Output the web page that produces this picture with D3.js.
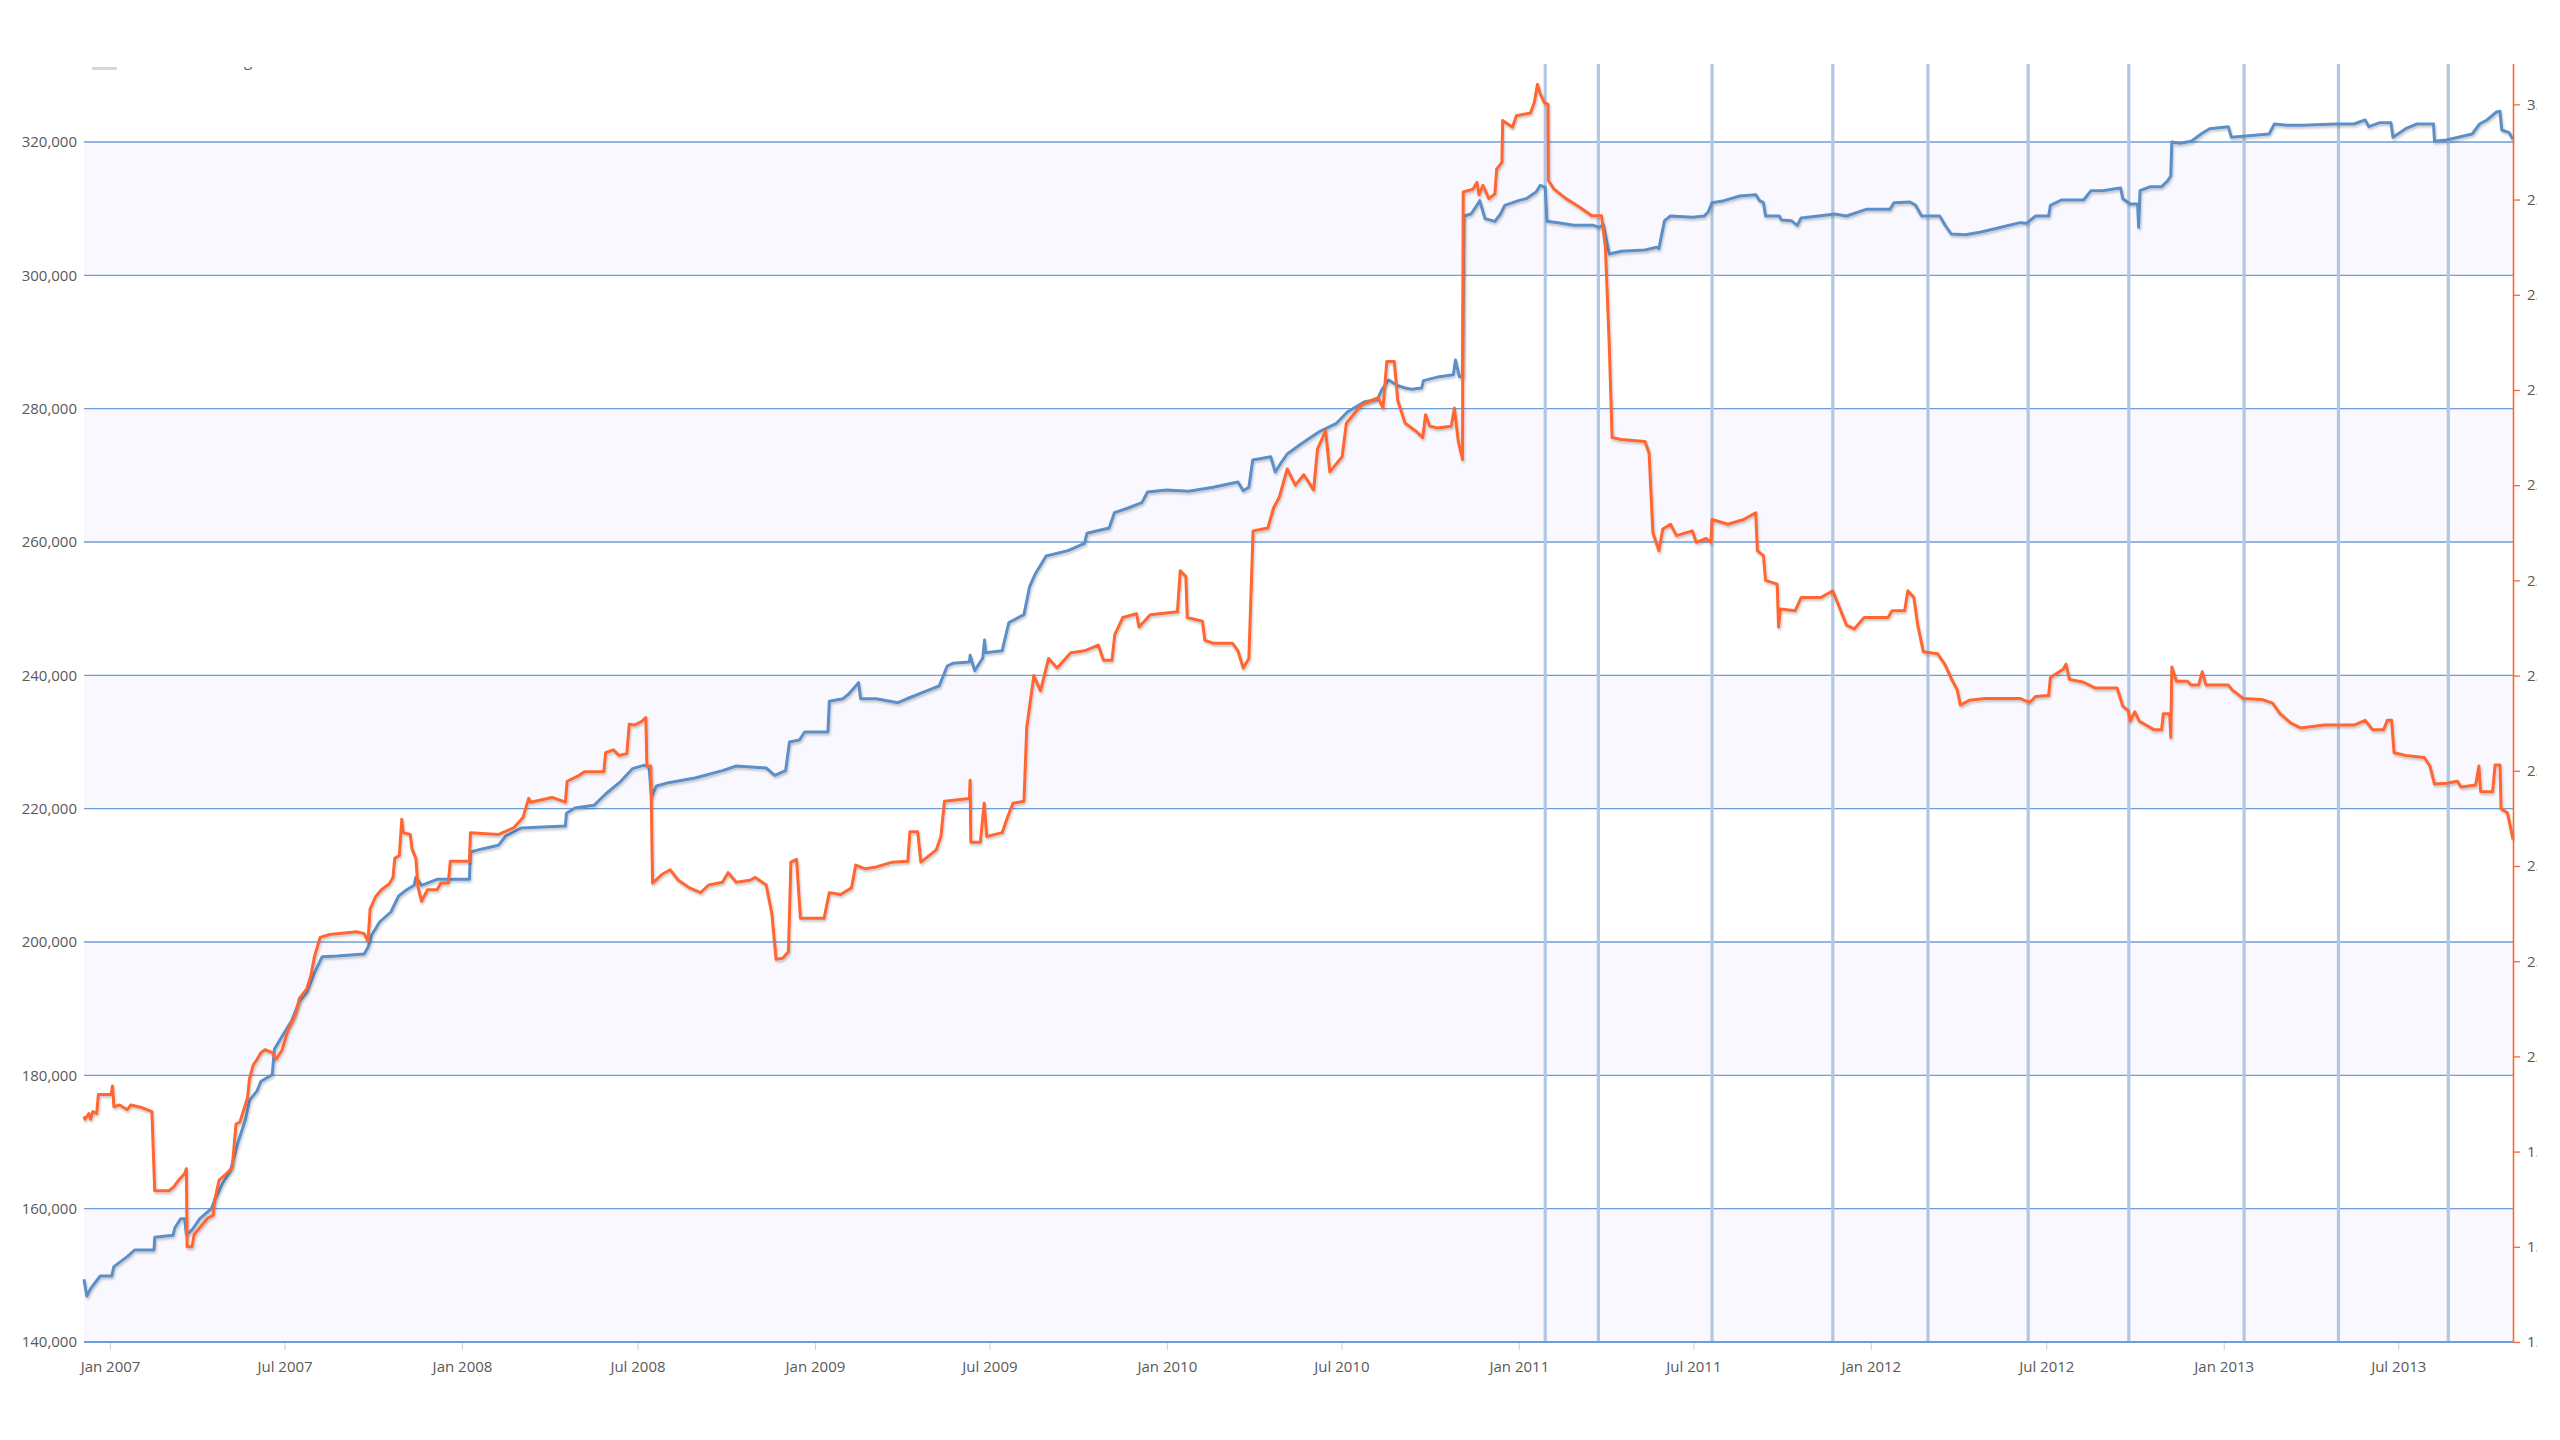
<!DOCTYPE html>
<html><head><meta charset="utf-8">
<script src="https://cdn.jsdelivr.net/npm/d3@7"></script>
<style>html,body{margin:0;padding:0;background:#fff;overflow:hidden}svg{display:block;font-family:"Open Sans",sans-serif}</style>
</head><body>
<svg id="chart" width="2560" height="1440"></svg>
<script>
// ---- DATA (x in decimal years) ----
const blueSeries = [
[2006.926,149400],[2006.934,146900],[2006.945,148000],[2006.972,149900],[2007.005,149900],[2007.011,151300],
[2007.049,152800],[2007.070,153800],[2007.125,153800],[2007.127,155700],[2007.179,156000],[2007.184,157100],
[2007.201,158500],[2007.212,158500],[2007.217,156100],[2007.233,156800],[2007.255,158500],[2007.288,160000],
[2007.298,161400],[2007.320,163800],[2007.342,165700],[2007.364,170000],[2007.385,173400],[2007.396,176200],
[2007.418,177700],[2007.429,179100],[2007.461,180100],[2007.467,183900],[2007.494,186300],[2007.516,188200],
[2007.538,191100],[2007.559,192500],[2007.581,195400],[2007.603,197800],[2007.646,197900],[2007.722,198200],
[2007.733,199200],[2007.744,201100],[2007.766,203000],[2007.798,204500],[2007.820,206900],[2007.842,207800],
[2007.864,208500],[2007.869,209700],[2007.885,208500],[2007.929,209400],[2008.021,209400],[2008.024,213500],
[2008.060,214000],[2008.103,214500],[2008.124,215900],[2008.168,217100],[2008.293,217400],[2008.296,219300],
[2008.320,220100],[2008.374,220500],[2008.407,222200],[2008.450,224100],[2008.483,226000],[2008.515,226500],
[2008.530,226300],[2008.537,221800],[2008.551,223400],[2008.585,223900],[2008.660,224600],[2008.738,225700],
[2008.777,226400],[2008.862,226100],[2008.886,225000],[2008.917,225700],[2008.928,230000],[2008.956,230300],
[2008.971,231500],[2009.037,231500],[2009.041,236100],[2009.080,236500],[2009.096,237200],[2009.124,238900],
[2009.130,236500],[2009.174,236500],[2009.236,235900],[2009.267,236600],[2009.314,237600],[2009.353,238400],
[2009.376,241400],[2009.392,241800],[2009.439,242000],[2009.441,243000],[2009.454,240700],[2009.477,242600],
[2009.482,245300],[2009.485,243400],[2009.532,243700],[2009.551,247900],[2009.594,249100],[2009.610,253300],
[2009.626,255200],[2009.657,257900],[2009.719,258700],[2009.766,259800],[2009.773,261300],[2009.836,262100],
[2009.851,264400],[2009.890,265100],[2009.929,265900],[2009.945,267500],[2009.999,267800],[2010.062,267600],
[2010.132,268200],[2010.202,269000],[2010.217,267700],[2010.233,268200],[2010.244,272300],[2010.295,272800],
[2010.308,270500],[2010.326,272000],[2010.342,273200],[2010.381,274700],[2010.435,276600],[2010.482,277800],
[2010.513,279500],[2010.560,281000],[2010.599,281400],[2010.610,282800],[2010.630,284300],[2010.654,283500],
[2010.677,283100],[2010.696,282900],[2010.724,283100],[2010.729,284200],[2010.774,284800],[2010.814,285100],
[2010.820,287300],[2010.831,284800],[2010.840,284800],[2010.844,308900],[2010.864,309200],[2010.881,310500],
[2010.889,311200],[2010.904,308500],[2010.932,308100],[2010.948,309200],[2010.960,310500],[2010.999,311200],
[2011.021,311500],[2011.049,312500],[2011.061,313500],[2011.075,313200],[2011.080,308100],[2011.111,307900],
[2011.156,307500],[2011.212,307500],[2011.229,307200],[2011.240,307600],[2011.257,303200],[2011.291,303600],
[2011.358,303800],[2011.392,304200],[2011.398,304000],[2011.414,308200],[2011.431,308900],[2011.493,308700],
[2011.527,308900],[2011.538,309500],[2011.549,310900],[2011.583,311200],[2011.628,311900],[2011.673,312100],
[2011.684,311200],[2011.695,310900],[2011.701,308900],[2011.740,308900],[2011.746,308300],[2011.774,308200],
[2011.791,307500],[2011.802,308600],[2011.852,308900],[2011.897,309200],[2011.931,308900],[2011.987,309900],
[2012.054,309900],[2012.066,310900],[2012.111,311000],[2012.127,310500],[2012.144,308900],[2012.195,308900],
[2012.212,307400],[2012.228,306200],[2012.268,306100],[2012.313,306500],[2012.369,307200],[2012.423,307900],
[2012.441,307800],[2012.467,308900],[2012.504,308900],[2012.509,310500],[2012.540,311300],[2012.603,311300],
[2012.624,312700],[2012.656,312700],[2012.708,313100],[2012.714,311500],[2012.735,310700],[2012.756,310700],
[2012.759,307200],[2012.763,312700],[2012.792,313300],[2012.824,313300],[2012.840,314100],[2012.850,314900],
[2012.853,320000],[2012.876,319800],[2012.908,320100],[2012.939,321300],[2012.960,322000],[2013.013,322300],
[2013.022,320700],[2013.087,321000],[2013.129,321200],[2013.144,322700],[2013.181,322500],[2013.223,322500],
[2013.318,322700],[2013.370,322700],[2013.402,323300],[2013.412,322300],[2013.444,322900],[2013.475,322900],
[2013.481,320700],[2013.517,322000],[2013.549,322700],[2013.596,322700],[2013.599,320100],[2013.633,320300],
[2013.706,321200],[2013.727,322700],[2013.748,323300],[2013.775,324500],[2013.785,324600],[2013.790,321800],
[2013.811,321400],[2013.822,320400]
];
const orangeSeries = [
[2006.926,1.937],[2006.929,1.934],[2006.940,1.940],[2006.945,1.934],[2006.951,1.942],[2006.962,1.940],
[2006.967,1.960],[2007.003,1.960],[2007.007,1.969],[2007.011,1.947],[2007.027,1.949],[2007.049,1.944],
[2007.059,1.949],[2007.092,1.946],[2007.119,1.942],[2007.127,1.859],[2007.168,1.859],[2007.181,1.863],
[2007.195,1.870],[2007.212,1.877],[2007.217,1.882],[2007.219,1.800],[2007.233,1.800],[2007.239,1.813],
[2007.255,1.820],[2007.277,1.830],[2007.293,1.833],[2007.298,1.850],[2007.310,1.870],[2007.331,1.877],
[2007.347,1.883],[2007.358,1.929],[2007.369,1.931],[2007.380,1.944],[2007.391,1.957],[2007.396,1.976],
[2007.407,1.991],[2007.418,1.997],[2007.429,2.004],[2007.440,2.007],[2007.461,2.004],[2007.472,1.997],
[2007.489,2.007],[2007.505,2.027],[2007.527,2.044],[2007.538,2.061],[2007.559,2.071],[2007.570,2.084],
[2007.581,2.105],[2007.597,2.125],[2007.624,2.128],[2007.701,2.131],[2007.722,2.129],[2007.733,2.121],
[2007.739,2.155],[2007.755,2.168],[2007.771,2.175],[2007.793,2.181],[2007.804,2.188],[2007.809,2.208],
[2007.822,2.211],[2007.829,2.249],[2007.833,2.235],[2007.853,2.233],[2007.858,2.218],[2007.869,2.208],
[2007.875,2.178],[2007.885,2.163],[2007.902,2.175],[2007.929,2.175],[2007.940,2.182],[2007.961,2.182],
[2007.967,2.205],[2008.021,2.205],[2008.024,2.235],[2008.103,2.233],[2008.146,2.240],[2008.173,2.251],
[2008.189,2.271],[2008.195,2.267],[2008.255,2.272],[2008.293,2.267],[2008.298,2.289],[2008.331,2.295],
[2008.347,2.299],[2008.402,2.299],[2008.407,2.319],[2008.429,2.322],[2008.445,2.316],[2008.467,2.318],
[2008.474,2.349],[2008.489,2.348],[2008.510,2.352],[2008.521,2.356],[2008.524,2.305],[2008.535,2.305],
[2008.540,2.182],[2008.566,2.191],[2008.590,2.196],[2008.613,2.185],[2008.645,2.177],[2008.676,2.172],
[2008.699,2.180],[2008.738,2.183],[2008.754,2.193],[2008.777,2.183],[2008.816,2.185],[2008.831,2.188],
[2008.862,2.180],[2008.878,2.150],[2008.890,2.102],[2008.909,2.103],[2008.925,2.110],[2008.932,2.204],
[2008.948,2.207],[2008.959,2.145],[2009.026,2.145],[2009.041,2.172],[2009.073,2.170],[2009.104,2.177],
[2009.116,2.201],[2009.143,2.197],[2009.174,2.199],[2009.220,2.204],[2009.264,2.205],[2009.270,2.236],
[2009.292,2.236],[2009.301,2.204],[2009.345,2.217],[2009.358,2.231],[2009.368,2.268],[2009.439,2.271],
[2009.441,2.290],[2009.443,2.225],[2009.470,2.225],[2009.481,2.266],[2009.488,2.231],[2009.532,2.235],
[2009.548,2.252],[2009.563,2.266],[2009.594,2.268],[2009.602,2.346],[2009.615,2.381],[2009.622,2.400],
[2009.641,2.384],[2009.664,2.418],[2009.688,2.408],[2009.727,2.424],[2009.766,2.426],[2009.805,2.432],
[2009.820,2.416],[2009.844,2.416],[2009.852,2.443],[2009.875,2.461],[2009.914,2.465],[2009.921,2.451],
[2009.953,2.464],[2010.030,2.467],[2010.038,2.510],[2010.054,2.504],[2010.058,2.461],[2010.101,2.457],
[2010.108,2.437],[2010.132,2.434],[2010.186,2.434],[2010.202,2.426],[2010.217,2.408],[2010.233,2.418],
[2010.245,2.552],[2010.287,2.555],[2010.303,2.576],[2010.319,2.587],[2010.342,2.617],[2010.365,2.600],
[2010.389,2.611],[2010.417,2.595],[2010.428,2.638],[2010.451,2.657],[2010.463,2.614],[2010.498,2.630],
[2010.510,2.665],[2010.552,2.684],[2010.600,2.692],[2010.614,2.681],[2010.625,2.730],[2010.646,2.730],
[2010.656,2.689],[2010.677,2.665],[2010.707,2.657],[2010.727,2.650],[2010.735,2.674],[2010.747,2.662],
[2010.769,2.660],[2010.808,2.662],[2010.817,2.681],[2010.828,2.646],[2010.840,2.627],[2010.842,2.908],
[2010.870,2.911],[2010.881,2.918],[2010.887,2.905],[2010.898,2.915],[2010.915,2.901],[2010.932,2.906],
[2010.937,2.932],[2010.952,2.939],[2010.954,2.983],[2010.982,2.976],[2010.993,2.988],[2011.033,2.991],
[2011.044,3.002],[2011.053,3.021],[2011.061,3.011],[2011.072,3.002],[2011.083,3.000],[2011.084,2.920],
[2011.100,2.911],[2011.134,2.901],[2011.173,2.892],[2011.207,2.883],[2011.235,2.883],[2011.246,2.850],
[2011.257,2.747],[2011.265,2.650],[2011.291,2.648],[2011.358,2.646],[2011.370,2.634],[2011.381,2.550],
[2011.398,2.531],[2011.409,2.554],[2011.431,2.559],[2011.448,2.547],[2011.493,2.552],[2011.504,2.540],
[2011.532,2.544],[2011.546,2.540],[2011.549,2.564],[2011.594,2.559],[2011.639,2.564],[2011.673,2.571],
[2011.678,2.531],[2011.695,2.526],[2011.701,2.500],[2011.734,2.496],[2011.738,2.451],[2011.743,2.470],
[2011.785,2.468],[2011.802,2.482],[2011.858,2.482],[2011.892,2.489],[2011.931,2.453],[2011.953,2.449],
[2011.981,2.461],[2012.049,2.461],[2012.060,2.468],[2012.096,2.468],[2012.105,2.489],[2012.122,2.482],
[2012.133,2.453],[2012.149,2.425],[2012.189,2.423],[2012.211,2.411],[2012.228,2.397],[2012.245,2.385],
[2012.254,2.369],[2012.279,2.374],[2012.324,2.376],[2012.423,2.376],[2012.435,2.374],[2012.451,2.372],
[2012.467,2.378],[2012.504,2.379],[2012.509,2.398],[2012.546,2.407],[2012.553,2.412],[2012.563,2.396],
[2012.603,2.393],[2012.635,2.387],[2012.698,2.387],[2012.714,2.368],[2012.730,2.363],[2012.735,2.352],
[2012.748,2.362],[2012.761,2.352],[2012.803,2.343],[2012.824,2.343],[2012.829,2.360],[2012.847,2.360],
[2012.850,2.335],[2012.853,2.409],[2012.866,2.394],[2012.897,2.394],[2012.908,2.390],[2012.929,2.390],
[2012.939,2.404],[2012.950,2.390],[2013.013,2.390],[2013.024,2.385],[2013.055,2.376],[2013.108,2.375],
[2013.139,2.371],[2013.160,2.360],[2013.191,2.350],[2013.218,2.345],[2013.286,2.348],[2013.370,2.348],
[2013.402,2.353],[2013.423,2.343],[2013.454,2.343],[2013.465,2.353],[2013.477,2.353],[2013.484,2.319],
[2013.517,2.316],[2013.570,2.314],[2013.586,2.305],[2013.599,2.286],[2013.633,2.287],[2013.664,2.289],
[2013.674,2.283],[2013.716,2.285],[2013.725,2.305],[2013.730,2.278],[2013.764,2.278],[2013.771,2.306],
[2013.785,2.306],[2013.788,2.260],[2013.806,2.256],[2013.822,2.228]
];
const eventYears = [2011.075,2011.226,2011.549,2011.892,2012.162,2012.446,2012.731,2013.058,2013.326,2013.638];
const leftTicks = [140000,160000,180000,200000,220000,240000,260000,280000,300000,320000];
const rightTicks = [1.7,1.8,1.9,2.0,2.1,2.2,2.3,2.4,2.5,2.6,2.7,2.8,2.9,3.0];
const xTickDates = ["2007-01-01","2007-07-01","2008-01-01","2008-07-01","2009-01-01","2009-07-01","2010-01-01",
  "2010-07-01","2011-01-01","2011-07-01","2012-01-01","2012-07-01","2013-01-01","2013-07-01"];
const legendLabel = "Number of listings";

// ---- CHART ----
function yearToDate(y){const yr=Math.floor(y),s=Date.UTC(yr,0,1),e=Date.UTC(yr+1,0,1);return new Date(s+(y-yr)*(e-s));}
const L=84,R=2513,T=64,B=1342;
const svg=d3.select("#chart");
const defs=svg.append("defs");
defs.append("clipPath").attr("id","plotClip").append("rect").attr("x",L-2).attr("y",T).attr("width",R-L+4).attr("height",B-T+4);
defs.append("clipPath").attr("id","topClip").append("rect").attr("x",0).attr("y",T).attr("width",2537).attr("height",1440);
defs.append("clipPath").attr("id","legClip").append("rect").attr("x",0).attr("y",67).attr("width",2537).attr("height",40);
const f=defs.append("filter").attr("id","shadow").attr("x","-2%").attr("y","-2%").attr("width","104%").attr("height","104%");
f.append("feDropShadow").attr("dx",1).attr("dy",2).attr("stdDeviation",1.3).attr("flood-color","#000").attr("flood-opacity",0.22);

const x=d3.scaleUtc().domain([new Date(Date.UTC(2006,11,5)),new Date(Date.UTC(2013,9,28))]).range([L,R]);
const yL=d3.scaleLinear().domain([140000,332000]).range([B,62]);
const yR=d3.scaleLinear().domain([1.7,3.0445]).range([B,62]);

const root=svg.append("g").attr("clip-path","url(#topClip)");
const plot=root.append("g").attr("clip-path","url(#plotClip)");

// bands
for(let i=0;i<leftTicks.length;i+=2){
  const v=leftTicks[i];
  plot.append("rect").attr("x",L).attr("width",R-L).attr("y",yL(v+20000)).attr("height",yL(v)-yL(v+20000)).attr("fill","#f8f8fe");
}
// horizontal grid
plot.selectAll(".hg").data(leftTicks.slice(1)).join("line").attr("x1",L).attr("x2",R)
  .attr("y1",d=>yL(d)).attr("y2",d=>yL(d)).attr("stroke","#6c9fd6").attr("stroke-width",1.3);
// vertical event lines
plot.selectAll(".ev").data(eventYears).join("line").attr("x1",d=>x(yearToDate(d))).attr("x2",d=>x(yearToDate(d)))
  .attr("y1",T).attr("y2",B).attr("stroke","#b2c7e3").attr("stroke-width",3.2);

// series
const lineB=d3.line().x(d=>x(yearToDate(d[0]))).y(d=>yL(d[1]));
const lineO=d3.line().x(d=>x(yearToDate(d[0]))).y(d=>yR(d[1]));
plot.append("path").datum(blueSeries).attr("d",lineB).attr("fill","none").attr("stroke","#5b8fc7")
  .attr("stroke-width",3).attr("stroke-linejoin","round").attr("filter","url(#shadow)");
plot.append("path").datum(orangeSeries).attr("d",lineO).attr("fill","none").attr("stroke","#ff6633")
  .attr("stroke-width",3).attr("stroke-linejoin","round").attr("filter","url(#shadow)");

// x axis
const xAxis=d3.axisBottom(x).tickValues(xTickDates.map(s=>new Date(s+"T00:00:00Z")))
  .tickFormat(d3.utcFormat("%b %Y")).tickSize(8).tickPadding(11).tickSizeOuter(0);
const gx=root.append("g").attr("transform",`translate(0,${B})`).call(xAxis);
gx.select(".domain").remove();
gx.selectAll(".tick line").attr("stroke","#cfcfcf");
gx.selectAll("text").attr("fill","#595959").attr("font-size",15).attr("font-family","'Open Sans',sans-serif");
root.append("line").attr("x1",L).attr("x2",R).attr("y1",B).attr("y2",B).attr("stroke","#6c9fd6").attr("stroke-width",2);

// left axis
const gl=root.append("g").attr("transform",`translate(${L},0)`)
  .call(d3.axisLeft(yL).tickValues(leftTicks).tickSize(0).tickPadding(7).tickFormat(d3.format(",")));
gl.select(".domain").remove();
gl.selectAll("text").attr("fill","#595959").attr("font-size",15).attr("font-family","'Open Sans',sans-serif");

// right axis
const gr=root.append("g").attr("transform",`translate(${R},0)`)
  .call(d3.axisRight(yR).tickValues(rightTicks).tickSize(7).tickPadding(7).tickSizeOuter(0).tickFormat(d3.format(".1f")));
gr.select(".domain").attr("stroke","#ff6633").attr("stroke-width",1.6);
gr.selectAll(".tick line").attr("stroke","#ff6633").attr("stroke-width",1.3);
gr.selectAll("text").attr("fill","#595959").attr("font-size",15).attr("font-family","'Open Sans',sans-serif");

// legend (mostly cut off at top)
const lg=svg.append("g").attr("clip-path","url(#legClip)");
lg.append("line").attr("x1",92).attr("x2",117).attr("y1",68.5).attr("y2",68.5).attr("stroke","#d6d6d6").attr("stroke-width",3);
lg.append("text").attr("x",131).attr("y",66).attr("font-size",15).attr("fill","#595959").text(legendLabel);
</script>
</body></html>
